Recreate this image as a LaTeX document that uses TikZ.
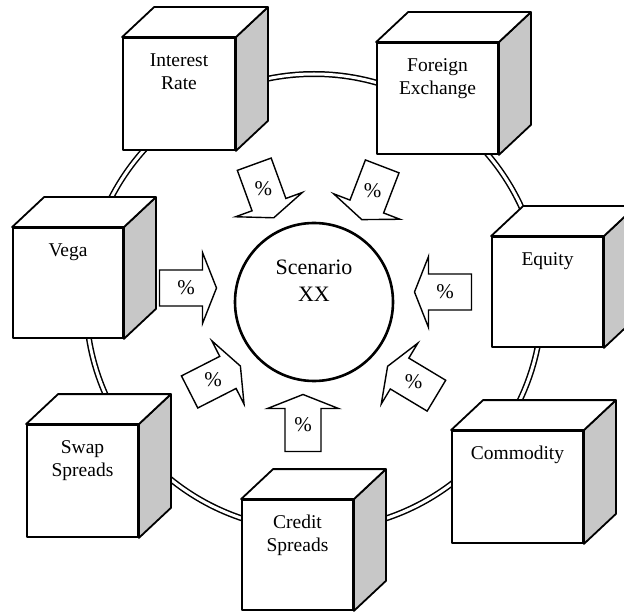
\documentclass[tikz,border=0pt]{standalone}
\usepackage{fontspec}
\setmainfont{Liberation Serif}
\usetikzlibrary{positioning,calc}
\tikzset{
  cubefront/.style={draw,fill=white,line width=1.8pt,rectangle,inner sep=0pt,line join=round},
  cubetop/.style={draw,fill=white,line width=1.8pt,line join=round},
  cubeside/.style={draw,fill=black!22,line width=1.8pt,line join=round},
  cubelabel/.style={font=\fontsize{19.5}{23}\selectfont,align=center,inner sep=0pt},
  ring/.style={draw,line width=1.5pt,double=white,double distance=3pt},
  pctarrow/.style={draw,fill=white,line width=1.4pt,line join=miter},
  pct/.style={font=\fontsize{21}{22}\selectfont,inner sep=0pt}
}
\begin{document}
\begin{tikzpicture}[x=1pt,y=-1pt]
  \useasboundingbox (0,0) rectangle (624,612);
  % outer ring
  \draw[ring] (314,302) circle (228pt);

  % the scenario circle
  \node[circle,draw,line width=2.6pt,minimum size=158pt,inner sep=0pt] (scen) at (314,302) {};
  \node[font=\fontsize{22}{27}\selectfont,align=center,inner sep=0pt,anchor=south] (scenlbl) at (scen.center) {Scenario\\XX};

  % risk factor cubes
  \foreach \name/\pos/\w/\h/\txt in {ir/{(179,94)}/112/112/{Interest\\Rate},
      fx/{(437.5,98.5)}/121/111/{Foreign\\Exchange},
      vega/{(68,283)}/110/110/{Vega},
      eq/{(547.5,292)}/111/110/{Equity},
      swap/{(82.5,481)}/111/112/{Swap\\Spreads},
      cred/{(297.5,555)}/111/110/{Credit\\Spreads},
      comm/{(517.5,487)}/131/112/{Commodity}}
  {
    \node[cubefront,minimum width=\w pt,minimum height=\h pt] (\name) at \pos {};
    \draw[cubeside] (\name.north east) -- ++(32,-30) -- ($(\name.south east)+(32,-30)$) -- (\name.south east) -- cycle;
    \draw[cubetop] (\name.north west) -- ++(32,-30) -- ($(\name.north east)+(32,-30)$) -- (\name.north east) -- cycle;
    \node[cubelabel,below=16pt of \name.north] (\name-lbl) {\txt};
  }

  % block arrows pointing at the scenario
  \foreach \name/\x/\y/\ang in {air/264/191/-70, afx/372/193/-111, avega/188/288/0,
      aeq/443/292/180, aswap/215/379/27, acomm/412/381/149, acred/303/423/90}
  {
    \begin{scope}[shift={(\x,\y)},rotate=\ang]
      \draw[pctarrow] (-28.5,-18) -- (14.5,-18) -- (14.5,-35.5) -- (28.5,0) -- (14.5,35.5) -- (14.5,18) -- (-28.5,18) -- cycle;
      \node[pct] (\name) at (-2,0) {\%};
    \end{scope}
  }
\end{tikzpicture}
\end{document}
